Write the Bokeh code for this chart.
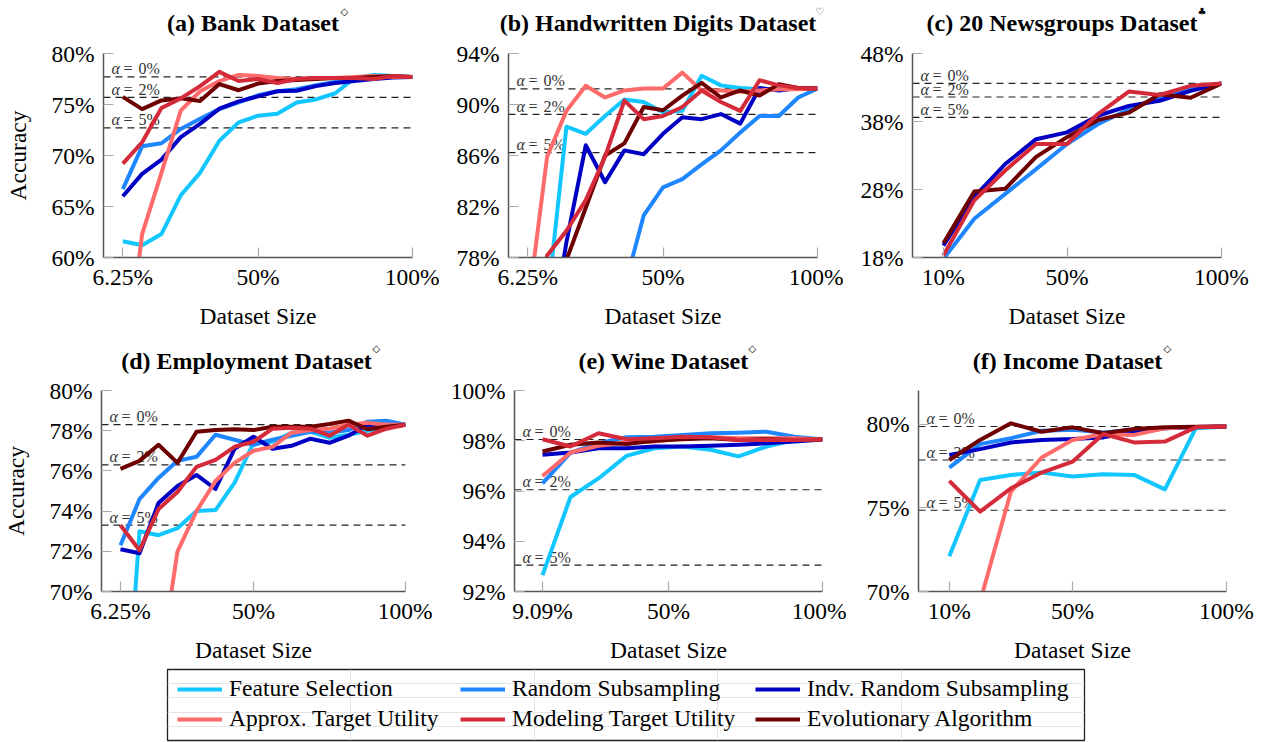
from bokeh.plotting import figure
from bokeh.models import (Range1d, FixedTicker, CustomJSTickFormatter, Span,
                          Legend, LegendItem)
from bokeh.layouts import column, row
from bokeh.embed import file_html
from bokeh.resources import INLINE
from bokeh.core.properties import value

# ---------------- data ----------------
SERIES = ["Feature Selection", "Random Subsampling", "Indv. Random Subsampling",
          "Approx. Target Utility", "Modeling Target Utility", "Evolutionary Algorithm"]
COLORS = ["#12c6ff", "#1e86ff", "#0000c4", "#ff6a6a", "#d42a3a", "#6e0000"]
DRAW_ORDER = [0, 1, 2, 3, 5, 4]

TITLES_1 = ["(a) Bank Dataset", "(b) Handwritten Digits Dataset", "(c) 20 Newsgroups Dataset"]
MARKS_1 = ["◇", "♡", "♣"]
TITLES_2 = ["(d) Employment Dataset", "(e) Wine Dataset", "(f) Income Dataset"]
MARKS_2 = ["◇", "◇", "◇"]

x_16 = [6.25, 12.5, 18.75, 25, 31.25, 37.5, 43.75, 50, 56.25, 62.5, 68.75, 75, 81.25, 87.5, 93.75, 100]
x_10 = [10, 20, 30, 40, 50, 60, 70, 80, 90, 100]
x_11 = [9.09, 18.18, 27.27, 36.36, 45.45, 54.55, 63.64, 72.73, 81.82, 90.91, 100]

# (a) Bank
bank_fs = [61.6, 61.2, 62.3, 66.1, 68.3, 71.45, 73.25, 73.9, 74.1, 75.2, 75.5, 76.1, 77.6, 77.9, 77.8, 77.7]
bank_rs = [66.7, 70.9, 71.2, 72.6, 73.6, 74.55, 75.2, 75.9, 76.3, 76.5, 76.9, 77.2, 77.5, 77.8, 77.7, 77.7]
bank_irs = [66.0, 68.2, 69.6, 71.8, 73.1, 74.6, 75.3, 75.8, 76.3, 76.35, 76.8, 77.1, 77.3, 77.5, 77.65, 77.7]
bank_atu = [47.0, 62.3, 68.3, 74.4, 76.3, 77.3, 77.9, 77.8, 77.6, 77.5, 77.6, 77.6, 77.7, 77.8, 77.7, 77.7]
bank_mtu = [69.2, 71.3, 74.65, 75.6, 76.8, 78.2, 77.3, 77.5, 77.1, 77.5, 77.6, 77.6, 77.6, 77.5, 77.8, 77.7]
bank_ea = [75.75, 74.55, 75.4, 75.6, 75.35, 77.0, 76.4, 77.05, 77.3, 77.4, 77.5, 77.6, 77.6, 77.7, 77.8, 77.7]

# (b) Handwritten digits
digits_fs = [70.0, 74.3, 88.26, 87.7, 89.1, 90.4, 90.2, 89.4, 89.5, 92.25, 91.5, 91.3, 91.2, 91.2, 91.3, 91.25]
digits_rs = [55.0, 60.0, 64.0, 68.0, 72.0, 75.6, 81.3, 83.5, 84.15, 85.3, 86.4, 87.8, 89.1, 89.1, 90.55, 91.25]
digits_irs = [62.0, 70.0, 79.2, 86.8, 83.9, 86.4, 86.1, 87.7, 89.0, 88.85, 89.25, 88.5, 91.3, 91.1, 91.3, 91.25]
digits_atu = [74.0, 85.9, 89.5, 91.47, 90.55, 91.1, 91.25, 91.25, 92.5, 91.1, 91.1, 91.0, 91.1, 91.2, 91.2, 91.25]
digits_mtu = [70.0, 78.15, 80.1, 82.5, 85.9, 90.3, 88.85, 89.1, 89.8, 91.1, 90.2, 89.5, 91.9, 91.5, 91.3, 91.25]
digits_ea = [70.0, 74.0, 77.8, 81.9, 86.0, 86.95, 89.8, 89.55, 90.7, 91.7, 90.55, 91.1, 90.7, 91.6, 91.3, 91.25]

# (c) 20 Newsgroups (no Feature Selection / Approx. Target Utility)
news_rs = [17.8, 23.7, 27.35, 31.0, 34.7, 37.6, 39.8, 41.5, 42.8, 43.6]
news_irs = [19.75, 26.9, 31.75, 35.4, 36.4, 38.85, 40.3, 41.05, 42.5, 43.6]
news_mtu = [18.3, 26.4, 30.8, 34.7, 34.7, 39.1, 42.4, 41.9, 43.25, 43.6]
news_ea = [20.1, 27.7, 28.1, 32.8, 35.7, 38.2, 39.3, 42.0, 41.5, 43.6]

# (d) Employment
emp_fs = [59.5, 73.0, 72.8, 73.15, 74.0, 74.05, 75.4, 77.4, 77.45, 77.9, 77.95, 77.65, 77.8, 78.0, 78.2, 78.3]
emp_rs = [72.3, 74.6, 75.65, 76.5, 76.7, 77.8, 77.55, 77.3, 77.55, 77.75, 77.95, 77.9, 78.03, 78.45, 78.5, 78.3]
emp_irs = [72.1, 71.9, 74.4, 75.25, 75.8, 75.1, 77.1, 77.7, 77.1, 77.25, 77.6, 77.4, 77.75, 78.3, 78.2, 78.3]
emp_atu = [52.0, 58.0, 65.7, 72.0, 74.0, 75.5, 76.4, 77.0, 77.2, 77.9, 78.03, 78.1, 78.3, 78.4, 78.3, 78.3]
emp_mtu = [73.3, 72.05, 74.1, 74.95, 76.2, 76.55, 77.2, 77.45, 78.1, 78.15, 78.1, 77.75, 78.3, 77.75, 78.1, 78.3]
emp_ea = [76.1, 76.5, 77.3, 76.4, 77.95, 78.03, 78.07, 78.03, 78.2, 78.2, 78.2, 78.33, 78.5, 78.07, 78.2, 78.3]

# (e) Wine
wine_fs = [92.65, 95.76, 96.5, 97.4, 97.7, 97.77, 97.64, 97.38, 97.77, 98.03, 98.05]
wine_rs = [96.3, 97.53, 97.9, 98.14, 98.16, 98.23, 98.3, 98.32, 98.36, 98.16, 98.05]
wine_irs = [97.44, 97.53, 97.7, 97.7, 97.77, 97.77, 97.8, 97.84, 97.9, 97.97, 98.05]
wine_atu = [96.6, 97.53, 97.8, 97.93, 97.97, 98.1, 98.14, 98.1, 98.1, 98.1, 98.05]
wine_mtu = [98.06, 97.77, 98.3, 98.06, 98.1, 98.16, 98.14, 98.03, 98.03, 98.03, 98.05]
wine_ea = [97.57, 97.84, 97.93, 97.87, 98.0, 98.06, 98.1, 98.03, 98.06, 98.03, 98.05]

# (f) Income
inc_fs = [72.1, 76.66, 76.96, 77.1, 76.86, 77.0, 76.96, 76.1, 79.74, 79.85]
inc_rs = [77.4, 78.8, 79.15, 79.6, 79.65, 79.5, 79.65, 79.74, 79.8, 79.85]
inc_irs = [78.15, 78.5, 78.9, 79.05, 79.1, 79.2, 79.55, 79.74, 79.82, 79.85]
inc_atu = [60.0, 69.4, 75.96, 78.0, 79.05, 79.4, 79.35, 79.74, 79.82, 79.85]
inc_mtu = [76.6, 74.77, 76.16, 77.1, 77.75, 79.4, 78.9, 78.95, 79.8, 79.85]
inc_ea = [77.85, 79.05, 80.04, 79.54, 79.8, 79.45, 79.7, 79.8, 79.84, 79.85]

# alpha threshold levels (0%, 2%, 5%)
ALPHA_PCT = ["0%", "2%", "5%"]
lv_bank = [77.7, 75.7, 72.7]
lv_digits = [91.23, 89.23, 86.23]
lv_news = [43.6, 41.6, 38.6]
lv_emp = [78.3, 76.3, 73.3]
lv_wine = [98.05, 96.05, 93.05]
lv_inc = [79.85, 77.85, 74.85]

# y ticks
yt_bank = [60, 65, 70, 75, 80]
yt_digits = [78, 82, 86, 90, 94]
yt_news = [18, 28, 38, 48]
yt_emp = [70, 72, 74, 76, 78, 80]
yt_wine = [92, 94, 96, 98, 100]
yt_inc = [70, 75, 80]

FONT = "Liberation Serif"
FS = "23.5px"
PAGE_W = 1264

# layout (pixels): left border, plot width, right border, top border, plot height, bottom border
FRAMES_1 = [(103, 309, 27, 14, 204, 76), (69, 309, 26, 14, 204, 76), (69, 309, 43, 14, 204, 76)]
FRAMES_2 = [(97, 308, 27, 14, 203, 72), (82, 308, 24, 14, 203, 72), (72, 308, 38, 14, 203, 72)]
MARK_DX_1 = [237, 307, 285]   # marker offset from plot-area left edge
MARK_DX_2 = [275, 234, 245]


def panel(xs, series, yr, yticks, xticks, levels, frame, ylabel):
    left, fw, right, top, fh, bottom = frame
    ymin, ymax = yr
    p = figure(width=left + fw + right, height=top + fh + bottom,
               x_range=Range1d(0, 100), y_range=Range1d(ymin, ymax),
               output_backend="svg", toolbar_location=None,
               min_border_left=left, min_border_right=right,
               min_border_top=top, min_border_bottom=bottom)
    p.outline_line_color = None
    p.grid.visible = False

    for ax in (p.xaxis[0], p.yaxis[0]):
        ax.axis_line_color = "#555555"
        ax.axis_line_width = 1.5
        ax.major_tick_in = 10
        ax.major_tick_out = 0
        ax.major_tick_line_color = "#aaaaaa"
        ax.major_tick_line_width = 1.2
        ax.minor_tick_line_color = None
        ax.major_label_text_font = FONT
        ax.major_label_text_font_size = FS
        ax.major_label_text_color = "black"
        ax.axis_label_text_font = FONT
        ax.axis_label_text_font_size = FS
        ax.axis_label_text_font_style = "normal"
        ax.axis_label_text_color = "black"
        ax.formatter = CustomJSTickFormatter(code="return tick + '%';")
    p.xaxis.ticker = FixedTicker(ticks=xticks)
    p.yaxis.ticker = FixedTicker(ticks=yticks)
    p.xaxis.major_label_standoff = 6
    p.yaxis.major_label_standoff = 9
    p.xaxis.axis_label = "Dataset Size"
    p.xaxis.axis_label_standoff = 10
    if ylabel:
        p.yaxis.axis_label = "Accuracy"
        p.yaxis.axis_label_standoff = 17

    # alpha threshold lines and labels
    for lv in levels:
        p.add_layout(Span(location=lv, dimension="width", line_color="#222222",
                          line_dash="7 5", line_width=1.2, level="underlay"))
    n = len(levels)
    common = dict(text_font=value(FONT), text_font_size="16px", y_offset=-8,
                  text_baseline="alphabetic", text_color="#333333")
    p.text(x=[0] * n, y=levels, text=["α"] * n, x_offset=8, text_font_style="italic", **common)
    p.text(x=[0] * n, y=levels, text=["="] * n, x_offset=20, **common)
    p.text(x=[0] * n, y=levels, text=ALPHA_PCT, x_offset=35, **common)

    for i in DRAW_ORDER:
        ys = series[i]
        if ys is None:
            continue
        p.line(xs, ys, line_color=COLORS[i], line_width=4, line_join="round")
    return p


def title_strip(titles, marks, frames, mark_dx, height, baseline, mark_y):
    s = figure(width=PAGE_W, height=height, x_range=Range1d(0, PAGE_W), y_range=Range1d(height, 0),
               output_backend="svg", toolbar_location=None,
               x_axis_location=None, y_axis_location=None,
               min_border_left=0, min_border_right=0, min_border_top=0, min_border_bottom=0)
    s.outline_line_color = None
    s.grid.visible = False
    starts, cx, mx = 0, [], []
    for (left, fw, right, *_), dx in zip(frames, mark_dx):
        cx.append(starts + left + fw / 2 - 5)
        mx.append(starts + left + dx)
        starts += left + fw + right
    s.text(x=cx, y=[baseline] * len(titles), text=titles,
           text_font=value(FONT), text_font_style="bold", text_font_size="24px",
           text_align="center", text_baseline="alphabetic", text_color="black")
    s.text(x=mx, y=[mark_y] * len(marks), text=marks,
           text_font=value("DejaVu Sans"), text_font_size="10px",
           text_align="left", text_baseline="middle", text_color="black")
    return s


pa = panel(x_16, [bank_fs, bank_rs, bank_irs, bank_atu, bank_mtu, bank_ea],
           (60, 80), yt_bank, [6.25, 50, 100], lv_bank, FRAMES_1[0], True)
pb = panel(x_16, [digits_fs, digits_rs, digits_irs, digits_atu, digits_mtu, digits_ea],
           (78, 94), yt_digits, [6.25, 50, 100], lv_digits, FRAMES_1[1], False)
pc = panel(x_10, [None, news_rs, news_irs, None, news_mtu, news_ea],
           (18, 48), yt_news, [10, 50, 100], lv_news, FRAMES_1[2], False)
pd_ = panel(x_16, [emp_fs, emp_rs, emp_irs, emp_atu, emp_mtu, emp_ea],
            (70, 80), yt_emp, [6.25, 50, 100], lv_emp, FRAMES_2[0], True)
pe = panel(x_11, [wine_fs, wine_rs, wine_irs, wine_atu, wine_mtu, wine_ea],
           (92, 100), yt_wine, [9.09, 50, 100], lv_wine, FRAMES_2[1], False)
pf = panel(x_10, [inc_fs, inc_rs, inc_irs, inc_atu, inc_mtu, inc_ea],
           (70, 82), yt_inc, [10, 50, 100], lv_inc, FRAMES_2[2], False)

t1 = title_strip(TITLES_1, MARKS_1, FRAMES_1, MARK_DX_1, 39, 22.5, 10.5)
t2 = title_strip(TITLES_2, MARKS_2, FRAMES_2, MARK_DX_2, 43, 27.5, 14.5)

# ---------------- legend ----------------
lg = figure(width=PAGE_W, height=77, x_range=Range1d(0, 1), y_range=Range1d(0, 1),
            output_backend="svg", toolbar_location=None,
            x_axis_location=None, y_axis_location=None,
            min_border_left=167, min_border_right=180, min_border_top=4, min_border_bottom=2)
lg.outline_line_color = "#222222"
lg.outline_line_width = 1.3
rends = [lg.line(x=[-3, -2], y=[-3, -2], line_color=COLORS[i], line_width=4) for i in range(6)]
columns = [[0, 3], [1, 4], [2, 5]]
col_x = [10, 293, 588]
for idxs, vx in zip(columns, col_x):
    leg = Legend(items=[LegendItem(label=SERIES[i], renderers=[rends[i]]) for i in idxs],
                 location=(vx, 8), orientation="vertical",
                 border_line_color=None, background_fill_alpha=0,
                 padding=0, margin=0, spacing=3,
                 glyph_width=45, glyph_height=26, label_height=26, label_standoff=7,
                 label_text_font=FONT, label_text_font_size=FS,
                 label_text_color="black", label_text_baseline="middle")
    lg.add_layout(leg, "center")

# wrap every strip in its own row so the column does not align their borders
layout = column(row(t1), row(pa, pb, pc), row(t2), row(pd_, pe, pf), row(lg))
open("out.html", "w").write(file_html(layout, INLINE))
